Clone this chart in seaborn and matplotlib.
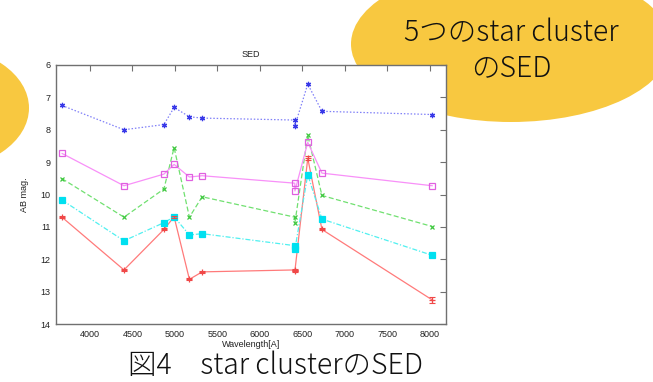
import matplotlib
matplotlib.use("Agg")
import matplotlib.pyplot as plt
from matplotlib.patches import Ellipse
import numpy as np
import pandas as pd
import seaborn as sns

# Wavelengths [A] of the photometric points (two measurements near 6410)
wavelength = [3670, 4400, 4870, 4990, 5170, 5320, 6410, 6412, 6563, 6730, 8030]

# AB magnitudes of the five star clusters
mag_red = [10.70, 12.33, 11.08, 10.69, 12.62, 12.39, 12.33, 12.35, 8.88, 11.08, 13.26]
err_red = [0.03, 0.03, 0.03, 0.03, 0.03, 0.03, 0.03, 0.03, 0.06, 0.03, 0.08]
mag_green = [9.51, 10.70, 9.83, 8.55, 10.70, 10.07, 10.70, 10.87, 8.17, 10.03, 10.99]
mag_blue = [7.25, 8.00, 7.84, 7.31, 7.60, 7.64, 7.70, 7.87, 6.59, 7.43, 7.53]
mag_magenta = [8.73, 9.73, 9.37, 9.07, 9.46, 9.42, 9.65, 9.89, 8.39, 9.34, 9.73]
mag_cyan = [10.17, 11.43, 10.87, 10.69, 11.25, 11.21, 11.58, 11.68, 9.39, 10.76, 11.88]

x_ticks = [4000, 4500, 5000, 5500, 6000, 6500, 7000, 7500, 8000]
y_ticks = [6, 7, 8, 9, 10, 11, 12, 13, 14]

sns.set_theme(style="white")
plt.rcParams["font.family"] = ["Liberation Sans", "DejaVu Sans"]

fig = plt.figure(figsize=(6.53, 3.82), dpi=100)
fig.patch.set_facecolor("white")

# Decorative yellow balloons behind the chart
bg = fig.add_axes([0, 0, 1, 1])
bg.set_xlim(0, 653)
bg.set_ylim(382, 0)
bg.axis("off")
yellow = "#f8c840"
bg.add_patch(Ellipse((511, 44), 320, 156, facecolor=yellow, edgecolor="none"))
bg.add_patch(Ellipse((-62, 108), 182, 124, facecolor=yellow, edgecolor="none"))
jp = ["Noto Sans CJK JP", "DejaVu Sans"]
bg.text(511, 33, "5つのstar cluster", ha="center", va="center",
        fontsize=20.5, family=jp, weight="light", color="#111111")
bg.text(511, 68, "のSED", ha="center", va="center",
        fontsize=20.5, family=jp, weight="light", color="#111111")
bg.text(276, 366, "図4\u3000star clusterのSED", ha="center", va="center",
        fontsize=20.5, family=jp, weight="light", color="#111111")

ax = fig.add_axes([56 / 653, 1 - 324 / 382, 390 / 653, 259 / 382])

series = [
    (mag_red, "#ff7a7a", "#f04848", "-", "+", 4, False),
    (mag_green, "#70e070", "#40c840", (0, (4, 2)), "x", 3.5, False),
    (mag_blue, "#8080f8", "#3838e8", (0, (1.2, 1.5)), (6, 2, 0), 3.8, False),
    (mag_magenta, "#f890f8", "#e060e0", "-", "s", 4.5, True),
    (mag_cyan, "#50f0f0", "#00e0f0", (0, (4, 1.5, 1, 1.5)), "s", 4.8, False),
]

for mags, lc, mc, ls, mk, ms, hollow in series:
    df = pd.DataFrame({"wavelength": wavelength, "mag": mags})
    sns.lineplot(data=df, x="wavelength", y="mag", ax=ax, sort=False,
                 estimator=None, color=lc, linewidth=0.9, linestyle=ls,
                 marker=mk, markersize=ms,
                 markerfacecolor="none" if hollow else mc,
                 markeredgecolor=mc, markeredgewidth=0.9)

ax.errorbar(wavelength, mag_red, yerr=err_red, fmt="none", ecolor="#f04848",
            elinewidth=0.8, capsize=2.5, capthick=0.8)

ax.set_xlim(3600, 8190)
ax.set_ylim(14, 6)
ax.set_xticks(x_ticks)
ax.set_yticks(y_ticks)
ax.tick_params(axis="both", which="both", direction="in", length=4,
               width=0.8, color="#707070", labelsize=6.5, labelcolor="#222222",
               top=True, right=True, pad=4)
for sp in ax.spines.values():
    sp.set_color("#707070")
    sp.set_linewidth(1.0)

ax.set_title("SED", fontsize=6.5, color="#222222", pad=6)
ax.set_xlabel("Wavelength[A]", fontsize=6.5, color="#222222", labelpad=1)
ax.set_ylabel("AB mag.", fontsize=6.5, color="#222222", labelpad=8)

fig.savefig("out.png", dpi=100, facecolor="white")
